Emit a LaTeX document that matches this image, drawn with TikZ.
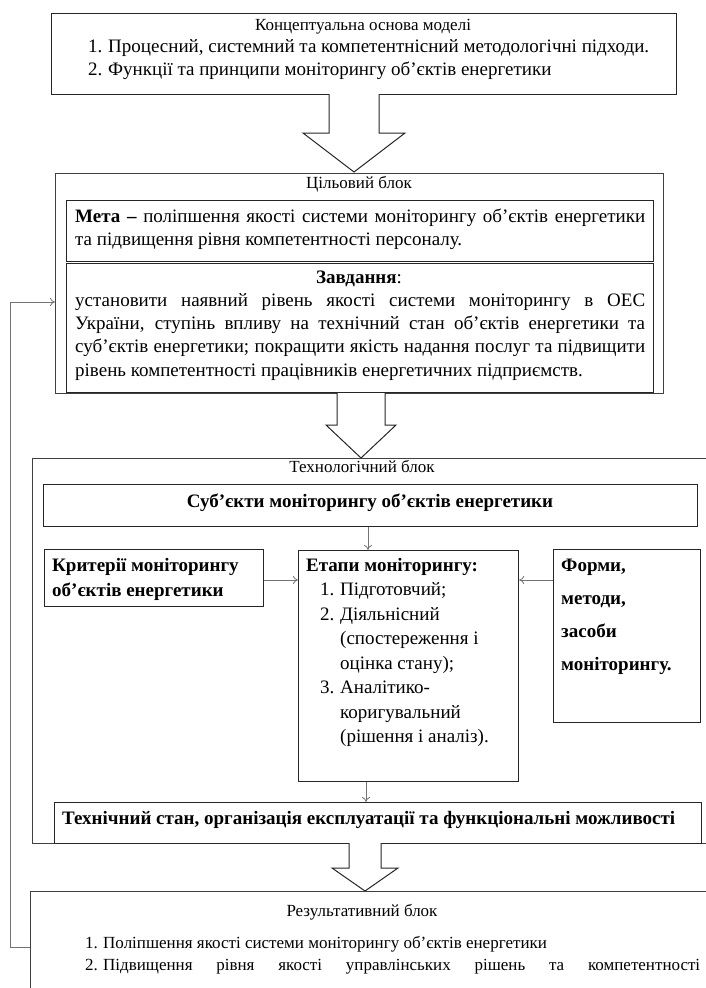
\documentclass[tikz,border=0pt]{standalone}
\usepackage{fontspec}
\setmainfont{Liberation Serif}
\usetikzlibrary{arrows.meta,calc}
\begin{document}
\begin{tikzpicture}[x=1pt,y=-1pt,
  box/.style={draw=black!85, line width=1.2pt, inner sep=0pt, anchor=north west},
  obox/.style={box, draw=black!75},
  txt/.style={inner sep=0pt, font=\fontsize{19}{23}\selectfont, text height=13pt, text depth=4pt},
  btxt/.style={txt, font=\fontsize{19}{23}\selectfont\bfseries},
  ttl/.style={txt, font=\fontsize{17}{21}\selectfont},
  stxt/.style={txt, font=\fontsize{17}{21}\selectfont},
  conn/.style={draw=black!55, line width=0.8pt, -{To[length=5pt,width=8pt]}},
  bigarrow/.style={draw=black!85, line width=1pt, fill=white, line join=miter}]
\useasboundingbox (0,0) rectangle (706,988);

% ---------- concept box
\node[box, minimum width=625pt, minimum height=81pt] (concept) at (51,13) {};
\node[ttl] (ctitle) at (363,26) {Концептуальна основа моделі};
\node[txt, anchor=west] (c1n) at (88,48) {1.};
\node[txt, anchor=west] (c1) at (108,48) {Процесний, системний та компетентнісний методологічні підходи.};
\node[txt, anchor=west] (c2n) at (88,71) {2.};
\node[txt, anchor=west] (c2) at (108,71) {Функції та принципи моніторингу об’єктів енергетики};

% ---------- big arrow 1
\draw[bigarrow] (329,94) -- (329,133) -- (303,133) -- (354,172) -- (405,133) -- (379,133) -- (379,94);

% ---------- goal block
\node[obox, minimum width=608pt, minimum height=220pt] (goal) at (55,173) {};
\node[ttl] (gtitle) at (359,184) {Цільовий блок};
\node[box, minimum width=587pt, minimum height=61pt] (meta) at (66,200) {};
\node[txt, anchor=west] (m1) at (75,218) {\makebox[570pt][s]{\textbf{Мета –} поліпшення якості системи моніторингу об’єктів енергетики}};
\node[txt, anchor=west] (m2) at (75,241) {та підвищення рівня компетентності персоналу.};
\node[box, minimum width=587pt, minimum height=129pt] (task) at (66,263) {};
\node[txt] (ttitle) at (359,279) {\textbf{Завдання}:};
\node[txt, anchor=west] (t1) at (75,302) {\makebox[570pt][s]{установити наявний рівень якості системи моніторингу в ОЕС}};
\node[txt, anchor=west] (t2) at (75,325) {\makebox[570pt][s]{України, ступінь впливу на технічний стан об’єктів енергетики та}};
\node[txt, anchor=west] (t3) at (75,348) {\makebox[570pt][s]{суб’єктів енергетики; покращити якість надання послуг та підвищити}};
\node[txt, anchor=west] (t4) at (75,372) {рівень компетентності працівників енергетичних підприємств.};

% ---------- big arrow 2
\draw[bigarrow] (337,393) -- (337,425) -- (326,425) -- (361,458) -- (396,425) -- (385,425) -- (385,393);

% ---------- technological block
\node[obox, minimum width=690pt, minimum height=385pt] (tech) at (32,458) {};
\node[ttl] (techtitle) at (362,468) {Технологічний блок};
\node[box, minimum width=654pt, minimum height=42pt] (subj) at (43,484) {};
\node[btxt] (subjt) at (370,503) {Суб’єкти моніторингу об’єктів енергетики};
\node[box, minimum width=219pt, minimum height=57pt] (crit) at (44,549) {};
\node[btxt, anchor=west] (cr1) at (52,567) {Критерії моніторингу};
\node[btxt, anchor=west] (cr2) at (52,592) {об’єктів енергетики};
\node[box, minimum width=220pt, minimum height=231pt] (stages) at (298,550) {};
\node[btxt, anchor=west] (s0) at (306,567) {Етапи моніторингу:};
\node[txt, anchor=west] (s1n) at (320,591) {1.};
\node[txt, anchor=west] (s1) at (340,591) {Підготовчий;};
\node[txt, anchor=west] (s2n) at (320,616) {2.};
\node[txt, anchor=west] (s2) at (340,616) {Діяльнісний};
\node[txt, anchor=west] (s2b) at (340,640) {(спостереження і};
\node[txt, anchor=west] (s2c) at (340,665) {оцінка стану);};
\node[txt, anchor=west] (s3n) at (320,689) {3.};
\node[txt, anchor=west] (s3) at (340,689) {Аналітико-};
\node[txt, anchor=west] (s3b) at (340,714) {коригувальний};
\node[txt, anchor=west] (s3c) at (340,738) {(рішення і аналіз).};
\node[box, minimum width=147pt, minimum height=173pt] (forms) at (553,549) {};
\node[btxt, anchor=west] (f1) at (561,567) {Форми,};
\node[btxt, anchor=west] (f2) at (561,600) {методи,};
\node[btxt, anchor=west] (f3) at (561,633) {засоби};
\node[btxt, anchor=west] (f4) at (561,666) {моніторингу.};
\node[box, minimum width=647pt, minimum height=41pt] (state) at (54,802) {};
\node[btxt, anchor=west] (statet) at (62,820) {Технічний стан, організація експлуатації та функціональні можливості};

\draw[conn] (subj.south -| 368,0) -- (stages.north -| 368,0);
\draw[conn] (crit.east |- 0,580) -- (stages.west |- 0,580);
\draw[conn] (forms.west |- 0,580) -- (stages.east |- 0,580);
\draw[conn] (stages.south -| 366,0) -- (state.north -| 366,0);

% ---------- big arrow 3
\draw[bigarrow] (349,843) -- (349,868) -- (332,868) -- (365,891) -- (398,868) -- (381,868) -- (381,843);

% ---------- result block
\node[obox, minimum width=690pt, minimum height=120pt] (result) at (30,891) {};
\node[ttl] (rtitle) at (362,912) {Результативний блок};
\node[stxt, anchor=west] (r1n) at (85,944) {1.};
\node[stxt, anchor=west] (r1) at (103,944) {Поліпшення якості системи моніторингу об’єктів енергетики};
\node[stxt, anchor=west] (r2n) at (85,966) {2.};
\node[stxt, anchor=west] (r2) at (103,966) {\makebox[597pt][s]{Підвищення рівня якості управлінських рішень та компетентності}};

% ---------- feedback
\coordinate (fb1) at (10,947);
\coordinate (fb2) at (10,302);
\draw[conn] (result.west |- fb1) -- (fb1) -- (fb2) -- (goal.west |- fb2);
\end{tikzpicture}
\end{document}
